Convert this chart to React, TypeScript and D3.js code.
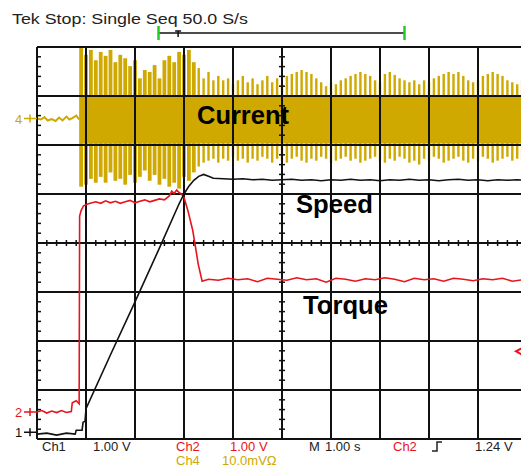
import { useRef, useEffect } from "react";
import * as d3 from "d3";

// screen divisions: x = seconds (1.00 s/div), y = divisions from centre
const speedTrace: [number, number][] = [
  [0, -3.9], [0.2, -3.88], [0.4, -3.92], [0.6, -3.88], [0.78, -3.9], [0.8, -3.82], [0.92, -3.82],
  [0.94, -3.66], [0.98, -3.64], [1.0, -3.38], [1.5, -2.28], [2.0, -1.2], [2.5, -0.1], [2.9, 0.8],
  [3.0, 1.0], [3.1, 1.16], [3.2, 1.28], [3.3, 1.36], [3.4, 1.4], [3.5, 1.36], [3.6, 1.32], [3.8, 1.31],
  [4.0, 1.3], [4.2, 1.31], [4.4, 1.29], [4.6, 1.3], [4.8, 1.28], [5.0, 1.29], [5.2, 1.3], [5.4, 1.28],
  [5.6, 1.29], [5.8, 1.27], [6.0, 1.29], [6.2, 1.28], [6.4, 1.3], [6.6, 1.28], [6.8, 1.29], [7.0, 1.27],
  [7.2, 1.29], [7.4, 1.28], [7.6, 1.3], [7.8, 1.28], [8.0, 1.29], [8.2, 1.27], [8.4, 1.29], [8.6, 1.3],
  [8.8, 1.28], [9.0, 1.29], [9.2, 1.27], [9.4, 1.29], [9.6, 1.28], [9.8, 1.29], [10.0, 1.28],
];

const torqueTrace: [number, number][] = [
  [0, -3.45], [0.1, -3.42], [0.2, -3.47], [0.3, -3.43], [0.4, -3.46], [0.5, -3.42], [0.6, -3.46],
  [0.7, -3.44], [0.72, -3.26], [0.8, -3.22], [0.86, -3.28], [0.87, 0.55], [0.9, 0.66], [0.95, 0.76],
  [1.05, 0.8], [1.2, 0.84], [1.3, 0.81], [1.4, 0.86], [1.5, 0.82], [1.6, 0.85], [1.7, 0.81], [1.8, 0.84],
  [1.9, 0.87], [2.0, 0.82], [2.1, 0.85], [2.2, 0.88], [2.3, 0.84], [2.4, 0.87], [2.5, 0.9], [2.6, 0.88],
  [2.7, 0.96], [2.75, 1.06], [2.8, 1.01], [2.85, 1.08], [2.9, 1.03], [2.95, 1.0], [3.0, 0.93],
  [3.08, 0.66], [3.18, 0.25], [3.29, -0.43], [3.37, -0.78], [3.5, -0.74], [3.7, -0.76], [3.9, -0.72],
  [4.1, -0.75], [4.3, -0.73], [4.5, -0.79], [4.7, -0.72], [4.9, -0.74], [5.1, -0.76], [5.3, -0.71],
  [5.5, -0.75], [5.7, -0.73], [5.9, -0.8], [6.1, -0.72], [6.3, -0.74], [6.5, -0.78], [6.7, -0.73],
  [6.9, -0.75], [7.1, -0.71], [7.3, -0.74], [7.5, -0.79], [7.7, -0.72], [7.9, -0.75], [8.1, -0.73],
  [8.3, -0.78], [8.5, -0.72], [8.7, -0.74], [8.9, -0.77], [9.1, -0.73], [9.3, -0.75], [9.5, -0.72],
  [9.7, -0.78], [10.0, -0.74],
];

const currentIdle: [number, number][] = [
  [0, 2.54], [0.08, 2.52], [0.15, 2.57], [0.22, 2.5], [0.3, 2.53], [0.38, 2.49], [0.45, 2.56],
  [0.52, 2.5], [0.6, 2.58], [0.66, 2.52], [0.72, 2.55], [0.8, 2.6], [0.86, 2.52],
];

// [time, envelope top, envelope bottom]
const currentBurst: [number, number, number][] = [
  [0.9, 3.98, 1.15], [1.0, 3.84, 1.19], [1.1, 3.94, 1.31], [1.2, 3.73, 1.23], [1.3, 3.9, 1.35],
  [1.4, 3.82, 1.23], [1.5, 3.94, 1.44], [1.6, 3.69, 1.27], [1.7, 3.84, 1.31], [1.8, 3.77, 1.19],
  [1.9, 3.61, 1.39], [2.0, 3.73, 1.23], [2.1, 3.36, 1.35], [2.2, 3.53, 1.48], [2.3, 3.49, 1.27],
  [2.4, 3.63, 1.39], [2.5, 3.36, 1.19], [2.6, 3.73, 1.31], [2.7, 3.82, 1.15], [2.8, 3.69, 1.23],
  [2.9, 3.9, 1.11], [3.0, 3.84, 1.35], [3.1, 3.94, 1.27], [3.2, 3.69, 1.44], [3.3, 3.57, 1.56],
  [3.4, 3.36, 1.64], [3.5, 3.49, 1.68], [3.6, 3.32, 1.72], [3.7, 3.41, 1.64], [3.8, 3.32, 1.72],
  [3.9, 3.36, 1.68], [4.0, 3.24, 1.76], [4.1, 3.32, 1.68], [4.2, 3.41, 1.72], [4.3, 3.28, 1.64],
  [4.4, 3.36, 1.72], [4.5, 3.24, 1.68], [4.6, 3.32, 1.76], [4.7, 3.41, 1.72], [4.8, 3.28, 1.64],
  [4.9, 3.36, 1.72], [5.0, 3.24, 1.68], [5.1, 3.41, 1.64], [5.2, 3.45, 1.72], [5.3, 3.49, 1.76],
  [5.4, 3.53, 1.68], [5.5, 3.49, 1.64], [5.6, 3.45, 1.72], [5.7, 3.36, 1.68], [5.8, 3.28, 1.76],
  [5.9, 3.2, 1.72], [6.0, 3.28, 1.64], [6.1, 3.24, 1.68], [6.2, 3.32, 1.72], [6.3, 3.36, 1.76],
  [6.4, 3.41, 1.68], [6.5, 3.45, 1.72], [6.6, 3.49, 1.64], [6.7, 3.45, 1.68], [6.8, 3.41, 1.72],
  [6.9, 3.32, 1.76], [7.0, 3.28, 1.68], [7.1, 3.45, 1.64], [7.2, 3.49, 1.72], [7.3, 3.43, 1.68],
  [7.4, 3.36, 1.76], [7.5, 3.32, 1.72], [7.6, 3.28, 1.64], [7.7, 3.32, 1.68], [7.8, 3.24, 1.6],
  [7.9, 3.32, 1.72], [8.0, 3.28, 1.68], [8.1, 3.36, 1.76], [8.2, 3.41, 1.72], [8.3, 3.45, 1.64],
  [8.4, 3.49, 1.68], [8.5, 3.45, 1.72], [8.6, 3.49, 1.76], [8.7, 3.41, 1.68], [8.8, 3.32, 1.64],
  [8.9, 3.28, 1.72], [9.0, 3.32, 1.68], [9.1, 3.41, 1.76], [9.2, 3.45, 1.72], [9.3, 3.49, 1.64],
  [9.4, 3.45, 1.68], [9.5, 3.41, 1.72], [9.6, 3.32, 1.76], [9.7, 3.28, 1.68], [9.8, 3.24, 1.72],
  [9.9, 3.32, 1.68],
];
const currentCore: [number, number] = [2.03, 3.02];
const burstEnd = 3.3;

const gridX = [0, 1, 2, 3, 4, 5, 6, 7, 8, 9, 10];
const gridY = [-4, -3, -2, -1, 0, 1, 2, 3, 4];
const groundMarks = [
  { label: "4", level: 2.54, color: "#cfa800" },
  { label: "2", level: -3.45, color: "#e8141c" },
  { label: "1", level: -3.86, color: "#111" },
];
const triggerLevel = -2.21;
const windowStart = 2.48, windowEnd = 7.5, triggerTime = 2.88;

const header = "Tek Stop: Single Seq  50.0 S/s";
const footer = [
  { text: "Ch1", x: 42, y: 451, color: "#222" },
  { text: "1.00 V", x: 93, y: 451, color: "#222" },
  { text: "Ch2", x: 176, y: 451, color: "#e8141c" },
  { text: "1.00 V", x: 230, y: 451, color: "#e8141c" },
  { text: "M", x: 309, y: 451, color: "#222" },
  { text: "1.00 s", x: 325, y: 451, color: "#222" },
  { text: "Ch2", x: 393, y: 451, color: "#e8141c" },
  { text: "1.24 V", x: 475, y: 451, color: "#222" },
  { text: "Ch4", x: 176, y: 465, color: "#cfa800" },
  { text: "10.0mVΩ", x: 222, y: 465, color: "#cfa800" },
];
const traceLabels = [
  { text: "Current", x: 197, y: 124, w: 92 },
  { text: "Speed", x: 296, y: 213, w: 77 },
  { text: "Torque", x: 303, y: 314, w: 85 },
];

export default function App() {
  const ref = useRef<SVGSVGElement>(null);

  useEffect(() => {
    const svg = d3.select(ref.current);
    svg.selectAll("*").remove();
    const x = d3.scaleLinear([0, 10], [37, 527]);
    const y = d3.scaleLinear([-4, 4], [439, 47]);
    const yellow = "#cfa800";
    const red = "#e8141c";
    const font = "'Liberation Sans', Arial, sans-serif";

    svg.append("rect").attr("width", 521).attr("height", 468).attr("fill", "#fff");

    // current (Ch4)
    const burstStart = currentBurst[0][0] - 0.03;
    svg.append("rect")
      .attr("x", x(burstStart)).attr("width", x(10) - x(burstStart))
      .attr("y", y(currentCore[1])).attr("height", y(currentCore[0]) - y(currentCore[1]))
      .attr("fill", yellow);
    svg.append("g").selectAll("rect").data(currentBurst).join("rect")
      .attr("x", d => x(d[0]) - (d[0] < burstEnd ? 1.9 : 1.2))
      .attr("width", d => (d[0] < burstEnd ? 3.8 : 2.4))
      .attr("y", d => y(d[1])).attr("height", d => y(d[2]) - y(d[1]))
      .attr("fill", yellow);
    svg.append("path").datum(currentIdle)
      .attr("d", d3.line(d => x(d[0]), d => y(d[1])))
      .attr("fill", "none").attr("stroke", yellow).attr("stroke-width", 2);

    // graticule
    const g = svg.append("g").attr("stroke", "#111");
    g.selectAll("line.v").data(gridX).join("line").attr("class", "v")
      .attr("x1", d => x(d)).attr("x2", d => x(d)).attr("y1", y(4)).attr("y2", y(-4))
      .attr("stroke-width", 2);
    g.selectAll("line.h").data(gridY).join("line").attr("class", "h")
      .attr("x1", x(0)).attr("x2", 521).attr("y1", d => y(d)).attr("y2", d => y(d))
      .attr("stroke-width", 2);
    const minorY = d3.range(-4, 4.01, 0.2);
    const minorX = d3.range(0, 10.01, 0.2);
    g.selectAll("line.ty").data(minorY).join("line").attr("class", "ty")
      .attr("x1", x(5) - 3).attr("x2", x(5) + 3).attr("y1", d => y(d)).attr("y2", d => y(d))
      .attr("stroke-width", 1.5);
    g.selectAll("line.tl").data(minorY).join("line").attr("class", "tl")
      .attr("x1", x(0)).attr("x2", x(0) + 4).attr("y1", d => y(d)).attr("y2", d => y(d))
      .attr("stroke-width", 1.5);
    g.selectAll("line.tx").data(minorX).join("line").attr("class", "tx")
      .attr("x1", d => x(d)).attr("x2", d => x(d)).attr("y1", y(0) - 3).attr("y2", y(0) + 3)
      .attr("stroke-width", 1.5);

    // speed (Ch1) and torque (Ch2)
    svg.append("path").datum(torqueTrace)
      .attr("d", d3.line(d => x(d[0]), d => y(d[1])))
      .attr("fill", "none").attr("stroke", red).attr("stroke-width", 1.6);
    svg.append("path").datum(speedTrace)
      .attr("d", d3.line(d => x(d[0]), d => y(d[1])))
      .attr("fill", "none").attr("stroke", "#111").attr("stroke-width", 1.6);

    // ground markers
    const gm = svg.append("g").selectAll("g").data(groundMarks).join("g");
    gm.append("text").text(d => d.label)
      .attr("x", 15).attr("y", d => y(d.level) + 5)
      .attr("fill", d => d.color).attr("font-family", font).attr("font-size", 13);
    gm.append("path")
      .attr("d", d => `M24,${y(d.level)}H37M30,${y(d.level) - 4}V${y(d.level) + 4}`)
      .attr("stroke", d => d.color).attr("stroke-width", 1.5);

    // trigger level marker
    svg.append("path")
      .attr("d", `M527,${y(triggerLevel) - 6}L516,${y(triggerLevel)}L527,${y(triggerLevel) + 6}`)
      .attr("fill", "none").attr("stroke", red).attr("stroke-width", 2);

    // record window bar
    svg.append("line").attr("x1", x(windowStart)).attr("x2", x(windowEnd))
      .attr("y1", 33).attr("y2", 33).attr("stroke", "#111").attr("stroke-width", 1.5);
    svg.selectAll("line.win").data([windowStart, windowEnd]).join("line").attr("class", "win")
      .attr("x1", d => x(d)).attr("x2", d => x(d)).attr("y1", 26).attr("y2", 40)
      .attr("stroke", "#22cc22").attr("stroke-width", 2.5);
    svg.append("path")
      .attr("d", `M${x(triggerTime) - 3},31H${x(triggerTime) + 3}M${x(triggerTime)},31V37`)
      .attr("stroke", "#111").attr("stroke-width", 1.5);

    // text
    svg.append("text").text(header).attr("x", 12).attr("y", 24)
      .attr("font-family", font).attr("font-size", 14).attr("fill", "#222")
      .attr("textLength", 236).attr("lengthAdjust", "spacingAndGlyphs");
    svg.append("g").selectAll("text").data(footer).join("text")
      .text(d => d.text).attr("x", d => d.x).attr("y", d => d.y)
      .attr("fill", d => d.color).attr("font-family", font).attr("font-size", 13);
    svg.append("path").attr("d", "M432,451H437V442H442").attr("fill", "none")
      .attr("stroke", "#222").attr("stroke-width", 1.5);
    svg.append("g").selectAll("text").data(traceLabels).join("text")
      .text(d => d.text).attr("x", d => d.x).attr("y", d => d.y)
      .attr("font-family", font).attr("font-weight", "bold").attr("font-size", 26)
      .attr("fill", "#000").attr("textLength", d => d.w).attr("lengthAdjust", "spacingAndGlyphs");
  }, []);

  return (
    <svg ref={ref} width={521} height={468}
      style={{ position: "absolute", left: 0, top: 0, display: "block" }} />
  );
}
